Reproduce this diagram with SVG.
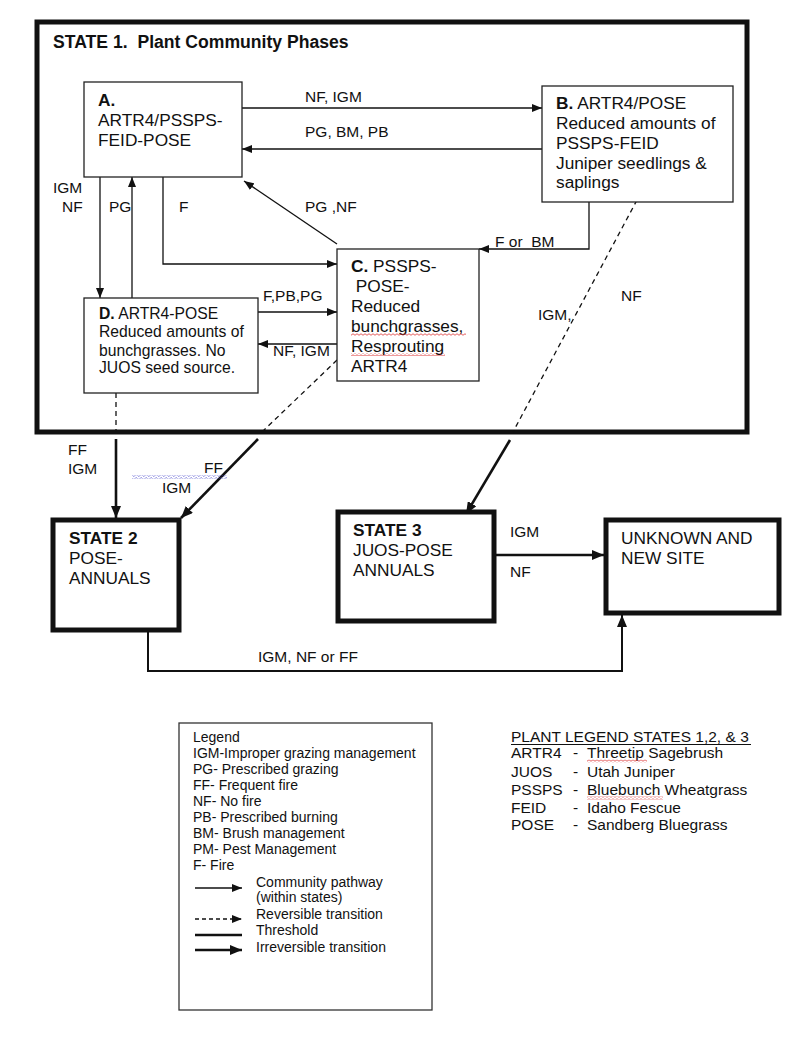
<svg xmlns="http://www.w3.org/2000/svg" width="800" height="1040" viewBox="0 0 800 1040">
<style>
text{font-family:"Liberation Sans",Arial,sans-serif;fill:#111}
.t{font-size:17.3px}
.d{font-size:15.7px}
.l{font-size:15.5px}
.s{font-size:14px}
.b{font-weight:bold}
.box{fill:#fff;stroke:#222;stroke-width:1.3}
.sbox{fill:#fff;stroke:#111;stroke-width:5}
.thin{fill:none;stroke:#111;stroke-width:1.3}
.dash{fill:none;stroke:#111;stroke-width:1.3;stroke-dasharray:5,4}
.thick{fill:none;stroke:#111;stroke-width:2.6}
</style>
<defs>
<marker id="a" viewBox="0 0 10 8" refX="10" refY="4" markerWidth="10" markerHeight="8" markerUnits="userSpaceOnUse" orient="auto"><path d="M0,0 L10,4 L0,8 z" fill="#111"/></marker>
<marker id="k" viewBox="0 0 12 10" refX="12" refY="5" markerWidth="12" markerHeight="10" markerUnits="userSpaceOnUse" orient="auto"><path d="M0,0 L12,5 L0,10 z" fill="#111"/></marker>
<pattern id="wr" width="4" height="3" patternUnits="userSpaceOnUse"><path d="M0,1.5 Q1,0 2,1.5 T4,1.5" fill="none" stroke="#d33" stroke-width="0.8"/></pattern>
<pattern id="wb" width="5" height="3" patternUnits="userSpaceOnUse"><path d="M0,1.5 Q1.25,0 2.5,1.5 T5,1.5" fill="none" stroke="#44c" stroke-width="0.8"/></pattern>
</defs>
<rect width="800" height="1040" fill="#fff"/>

<g id="state1">
<rect x="37" y="22" width="710" height="410" fill="none" stroke="#111" stroke-width="5"/>
<text x="53" y="48" class="t b" style="font-size:17.6px" xml:space="preserve">STATE 1.  Plant Community Phases</text>
</g>

<g id="connectors">
<path class="thin" d="M242,108 H542" marker-end="url(#a)"/>
<path class="thin" d="M542,149 H242" marker-end="url(#a)"/>
<path class="thin" d="M100,177 V298" marker-end="url(#a)"/>
<path class="thin" d="M132,298 V177" marker-end="url(#a)"/>
<path class="thin" d="M163,177 V264 H337" marker-end="url(#a)"/>
<path class="thin" d="M337,244 L244,181" marker-end="url(#a)"/>
<path class="thin" d="M589,202 V249 H479" marker-end="url(#a)"/>
<path class="thin" d="M258,312 H337" marker-end="url(#a)"/>
<path class="thin" d="M337,344 H258" marker-end="url(#a)"/>
<path class="dash" d="M116,393 V432"/>
<path class="dash" d="M337,360 L262,432"/>
<path class="dash" d="M637,200 L513,432"/>
<path class="thick" d="M116,439 V518" marker-end="url(#k)"/>
<path class="thick" d="M258,439 L181,518" marker-end="url(#k)"/>
<path class="thick" d="M510,440 L466,514" marker-end="url(#k)"/>
<path class="thick" d="M496,555 H604" marker-end="url(#k)"/>
<path class="thick" style="stroke-width:2" d="M148,632 V671 H622 V615" marker-end="url(#k)"/>
<g class="l">
<text x="305" y="102">NF, IGM</text>
<text x="305" y="137">PG, BM, PB</text>
<text x="53" y="193">IGM</text>
<text x="62" y="212">NF</text>
<text x="109" y="212">PG</text>
<text x="179" y="212">F</text>
<text x="305" y="212">PG ,NF</text>
<text x="495" y="247" xml:space="preserve">F or  BM</text>
<text x="263" y="301">F,PB,PG</text>
<text x="273" y="356">NF, IGM</text>
<text x="538" y="320">IGM,</text>
<text x="621" y="301">NF</text>
<text x="68" y="455">FF</text>
<text x="68" y="474">IGM</text>
<text x="204" y="473">FF</text>
<text x="162" y="493">IGM</text>
<text x="510" y="537">IGM</text>
<text x="510" y="577">NF</text>
<text x="258" y="662">IGM, NF or FF</text>
</g>
<rect x="132" y="475.5" width="95" height="3" fill="url(#wb)"/>
</g>

<g id="nodeA">
<rect class="box" x="84" y="82" width="158" height="95"/>
<text x="98" y="106" class="t b">A.</text>
<text x="98" y="126" class="t">ARTR4/PSSPS-</text>
<text x="98" y="146" class="t">FEID-POSE</text>
</g>

<g id="nodeB">
<rect class="box" x="542" y="86" width="191" height="116"/>
<text x="556" y="109" class="t"><tspan class="b">B.</tspan> ARTR4/POSE</text>
<text x="556" y="129" class="t">Reduced amounts of</text>
<text x="556" y="149" class="t">PSSPS-FEID</text>
<text x="556" y="169" class="t">Juniper seedlings &amp;</text>
<text x="556" y="188" class="t">saplings</text>
</g>

<g id="nodeC">
<rect class="box" x="337" y="249" width="142" height="132"/>
<text x="351" y="272" class="t"><tspan class="b">C.</tspan> PSSPS-</text>
<text x="351" y="292" class="t" xml:space="preserve"> POSE-</text>
<text x="351" y="312" class="t">Reduced</text>
<text x="351" y="332" class="t">bunchgrasses,</text>
<text x="351" y="352" class="t">Resprouting</text>
<text x="351" y="372" class="t">ARTR4</text>
<rect x="351" y="333" width="115" height="3" fill="url(#wr)"/>
<rect x="351" y="353" width="94" height="3" fill="url(#wr)"/>
</g>

<g id="nodeD">
<rect class="box" x="84" y="298" width="174" height="95"/>
<text x="99" y="319" class="d"><tspan class="b">D.</tspan> ARTR4-POSE</text>
<text x="99" y="337" class="d">Reduced amounts of</text>
<text x="99" y="356" class="d">bunchgrasses. No</text>
<text x="99" y="373" class="d">JUOS seed source.</text>
</g>

<g id="state2">
<rect class="sbox" x="53" y="520" width="126" height="110"/>
<text x="69" y="544" class="t b">STATE 2</text>
<text x="69" y="564" class="t">POSE-</text>
<text x="69" y="584" class="t">ANNUALS</text>
</g>

<g id="state3">
<rect class="sbox" x="338" y="512" width="156" height="109"/>
<text x="353" y="536" class="t b">STATE 3</text>
<text x="353" y="556" class="t">JUOS-POSE</text>
<text x="353" y="576" class="t">ANNUALS</text>
</g>

<g id="unknown">
<rect class="sbox" x="606" y="520" width="173" height="93"/>
<text x="621" y="544" class="t">UNKNOWN AND</text>
<text x="621" y="564" class="t">NEW SITE</text>
</g>

<g id="legend">
<rect x="179" y="723" width="253" height="287" fill="#fff" stroke="#333" stroke-width="1.3"/>
<g class="s">
<text x="193" y="742">Legend</text>
<text x="193" y="758">IGM-Improper grazing management</text>
<text x="193" y="774">PG- Prescribed grazing</text>
<text x="193" y="790">FF- Frequent fire</text>
<text x="193" y="806">NF- No fire</text>
<text x="193" y="822">PB- Prescribed burning</text>
<text x="193" y="838">BM- Brush management</text>
<text x="193" y="854">PM- Pest Management</text>
<text x="193" y="870">F- Fire</text>
<text x="256" y="887">Community pathway</text>
<text x="256" y="902">(within states)</text>
<text x="256" y="919">Reversible transition</text>
<text x="256" y="935">Threshold</text>
<text x="256" y="952">Irreversible transition</text>
</g>
<path class="thin" d="M195,888 H242" marker-end="url(#a)"/>
<path class="dash" style="stroke-dasharray:4,3" d="M195,919 H242" marker-end="url(#a)"/>
<path class="thick" d="M195,935 H242"/>
<path class="thick" d="M195,950 H242" marker-end="url(#k)"/>
</g>

<g id="plantlegend">
<text x="511" y="742" class="l">PLANT LEGEND STATES 1,2, &amp; 3</text>
<line x1="511" y1="744.5" x2="751" y2="744.5" stroke="#111" stroke-width="1"/>
<g class="l">
<text x="511" y="758">ARTR4</text><text x="573" y="758">-</text><text x="587" y="758">Threetip Sagebrush</text>
<text x="511" y="777">JUOS</text><text x="573" y="777">-</text><text x="587" y="777">Utah Juniper</text>
<text x="511" y="795">PSSPS</text><text x="573" y="795">-</text><text x="587" y="795">Bluebunch Wheatgrass</text>
<text x="511" y="813">FEID</text><text x="573" y="813">-</text><text x="587" y="813">Idaho Fescue</text>
<text x="511" y="830">POSE</text><text x="573" y="830">-</text><text x="587" y="830">Sandberg Bluegrass</text>
</g>
<rect x="587" y="759.5" width="60" height="3" fill="url(#wr)"/>
<rect x="587" y="796.5" width="76" height="3" fill="url(#wr)"/>
</g>
</svg>
